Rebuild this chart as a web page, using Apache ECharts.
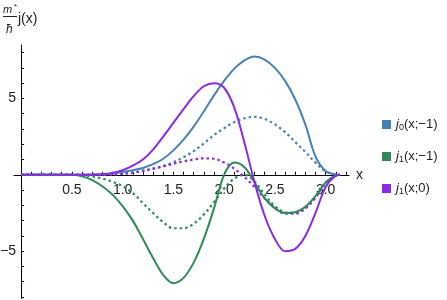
<html>
<head>
    <meta charset="utf-8" />
    <style>
        html, body { margin: 0; padding: 0; background: #fff; }
        #chart { width: 447px; height: 300px; }
    </style>
    <script src="https://cdn.jsdelivr.net/npm/echarts@6/dist/echarts.min.js"></script>
</head>
<body>
    <div id="chart"></div>
    <script type="text/javascript">
        // x samples (0 .. pi)
        var xValues = [0, 0.1, 0.2, 0.3, 0.4, 0.5, 0.6, 0.7, 0.8, 0.9, 1.0, 1.1, 1.2, 1.3, 1.4, 1.5, 1.6,
            1.7, 1.8, 1.9, 2.0, 2.1, 2.2, 2.3, 2.4, 2.5, 2.6, 2.7, 2.8, 2.9, 3.0, 3.1, 3.14];

        // j0(x;-1)
        var j0m1Solid = [0, 0, 0, 0, 0, 0, 0, 0.01, 0.03, 0.08, 0.18, 0.3, 0.45, 0.7, 1.05, 1.6, 2.3,
            3.15, 4.15, 5.2, 6.15, 6.95, 7.5, 7.75, 7.55, 7.0, 6.15, 4.95, 3.3, 1.2, 0.25, 0.02, 0];
        var j0m1Dotted = [0, 0, 0, 0, 0, 0, 0, 0, 0.01, 0.04, 0.09, 0.16, 0.27, 0.4, 0.58, 0.82, 1.15,
            1.55, 2.05, 2.6, 3.05, 3.45, 3.7, 3.8, 3.65, 3.3, 2.8, 2.15, 1.5, 0.8, 0.22, 0.02, 0];
        // j1(x;-1)
        var j1m1Solid = [0, 0, 0, 0, 0, 0, -0.1, -0.35, -0.75, -1.3, -2.05, -3.0, -4.2, -5.45, -6.55, -7.1, -6.75,
            -5.75, -4.2, -2.2, 0.0, 0.8, 0.5, -0.5, -1.55, -2.2, -2.5, -2.45, -2.1, -1.4, -0.5, -0.04, 0];
        var j1m1Dotted = [0, 0, 0, 0, 0, 0, -0.02, -0.1, -0.25, -0.45, -0.75, -1.2, -1.85, -2.5, -3.1, -3.5, -3.5,
            -3.2, -2.6, -1.8, -0.9, -0.25, 0.0, -0.45, -1.3, -2.05, -2.45, -2.5, -2.2, -1.45, -0.55, -0.05, 0];
        // j1(x;0)
        var j10Solid = [0, 0, 0, 0, 0, 0, 0, 0, 0.03, 0.12, 0.3, 0.6, 1.0, 1.65, 2.5, 3.4, 4.3,
            5.15, 5.8, 6.0, 5.7, 4.4, 2.1, -0.5, -2.7, -4.2, -5.0, -4.85, -4.0, -2.5, -0.8, -0.05, 0];
        var j10Dotted = [0, 0, 0, 0, 0, 0, 0, 0, 0, 0.02, 0.06, 0.13, 0.25, 0.4, 0.55, 0.72, 0.88,
            1.0, 1.08, 1.05, 0.8, 0.4, -0.15, -0.8, -1.55, -2.15, -2.55, -2.55, -2.2, -1.5, -0.55, -0.05, 0];

        var xTickLabels = [0.5, 1.0, 1.5, 2.0, 2.5, 3.0];
        var yTickLabels = [-5, 5];
        var seriesNames = ['j0(x;-1)', 'j1(x;-1)', 'j1(x;0)'];

        var xMinorTicks = [];
        for (var t = 0; t <= 32; t++) xMinorTicks.push(t / 10);
        var yMinorTicks = [];
        for (var u = -8; u <= 8; u++) yMinorTicks.push(u);

        function pairs(ys) {
            return xValues.map(function (x, i) { return [x, ys[i]]; });
        }

        var blue = '#4682b4', green = '#2e8b57', purple = '#8a2be2';
        var font = 'Liberation Sans';

        function line(name, ys, color, dotted) {
            return {
                name: name,
                type: 'line',
                data: pairs(ys),
                smooth: 0.35,
                showSymbol: false,
                silent: true,
                color: color,
                lineStyle: {
                    color: color,
                    width: dotted ? 2.2 : 2,
                    type: dotted ? [2.5, 3] : 'solid'
                },
                z: dotted ? 2 : 3
            };
        }

        var chart = echarts.init(document.getElementById('chart'), null, { renderer: 'canvas' });
        var option = {
            backgroundColor: '#fff',
            animation: false,
            grid: { left: 14, width: 335, top: 45, height: 253.5, containLabel: false, outerBoundsMode: 'none' },
            xAxis: {
                type: 'value',
                min: -0.07,
                max: 3.23,
                name: 'x',
                nameLocation: 'end',
                nameGap: 7,
                nameTextStyle: { fontFamily: font, fontSize: 14, color: '#222', verticalAlign: 'middle' },
                axisLine: { show: true, onZero: true, lineStyle: { color: '#000', width: 1 } },
                axisTick: { show: true, inside: true, length: 3, customValues: xMinorTicks, lineStyle: { color: '#000' } },
                axisLabel: {
                    customValues: xTickLabels,
                    margin: 8,
                    fontFamily: font, fontSize: 14, color: '#222',
                    formatter: function (v) { return v.toFixed(1); }
                },
                splitLine: { show: false }
            },
            yAxis: {
                type: 'value',
                min: -8.1,
                max: 8.5,
                axisLine: { show: true, onZero: true, lineStyle: { color: '#000', width: 1 } },
                axisTick: { show: true, inside: true, length: 3, customValues: yMinorTicks, lineStyle: { color: '#000' } },
                axisLabel: {
                    customValues: yTickLabels,
                    margin: 5,
                    fontFamily: font, fontSize: 14, color: '#222',
                    formatter: function (v) { return v < 0 ? '\u2212' + Math.abs(v) : String(v); }
                },
                splitLine: { show: false }
            },
            legend: {
                orient: 'vertical',
                left: 382,
                top: 118,
                padding: 0,
                itemWidth: 9,
                itemHeight: 9,
                itemGap: 18,
                icon: 'rect',
                data: seriesNames,
                formatter: function (name) {
                    var m = name.match(/^j(\d)\((.*)\)$/);
                    return '{j|j}{s|' + m[1] + '}{n|(' + m[2].replace('-', '\u2212') + ')}';
                },
                textStyle: {
                    color: '#222',
                    rich: {
                        j: { fontFamily: font, fontSize: 13, fontStyle: 'italic', color: '#222' },
                        s: { fontFamily: font, fontSize: 9, color: '#222', verticalAlign: 'bottom', padding: [6, 0, 0, 0] },
                        n: { fontFamily: font, fontSize: 13, color: '#222' }
                    }
                }
            },
            graphic: [
                { type: 'text', left: 3, top: 4, style: { text: 'm', fontFamily: font, fontSize: 11, fontStyle: 'italic', fill: '#222' } },
                { type: 'text', left: 14, top: 3, style: { text: '*', fontFamily: font, fontSize: 8, fill: '#222' } },
                { type: 'line', shape: { x1: 3, y1: 16.5, x2: 17, y2: 16.5 }, style: { stroke: '#222', lineWidth: 1 } },
                { type: 'text', left: 6, top: 24, style: { text: '\u0127', fontFamily: font, fontSize: 12, fontStyle: 'italic', fill: '#222' } },
                { type: 'text', left: 18, top: 12, style: { text: 'j(x)', fontFamily: font, fontSize: 14, fill: '#222' } }
            ],
            series: [
                line(seriesNames[0], j0m1Dotted, blue, true),
                line(seriesNames[1], j1m1Dotted, green, true),
                line(seriesNames[2], j10Dotted, purple, true),
                line(seriesNames[0], j0m1Solid, blue, false),
                line(seriesNames[1], j1m1Solid, green, false),
                line(seriesNames[2], j10Solid, purple, false)
            ]
        };
        chart.setOption(option);

        // labels stay on the grid edge here, so pull them onto the zero lines
        var grid = chart.getModel().getComponent('grid').coordinateSystem.getRect();
        var zeroY = chart.convertToPixel({ yAxisIndex: 0 }, 0);
        var zeroX = chart.convertToPixel({ xAxisIndex: 0 }, 0);
        chart.setOption({
            xAxis: { axisLabel: { margin: 8 - (grid.y + grid.height - zeroY) } },
            yAxis: { axisLabel: { margin: 5 - (zeroX - grid.x) } }
        });
    </script>
</body>
</html>
